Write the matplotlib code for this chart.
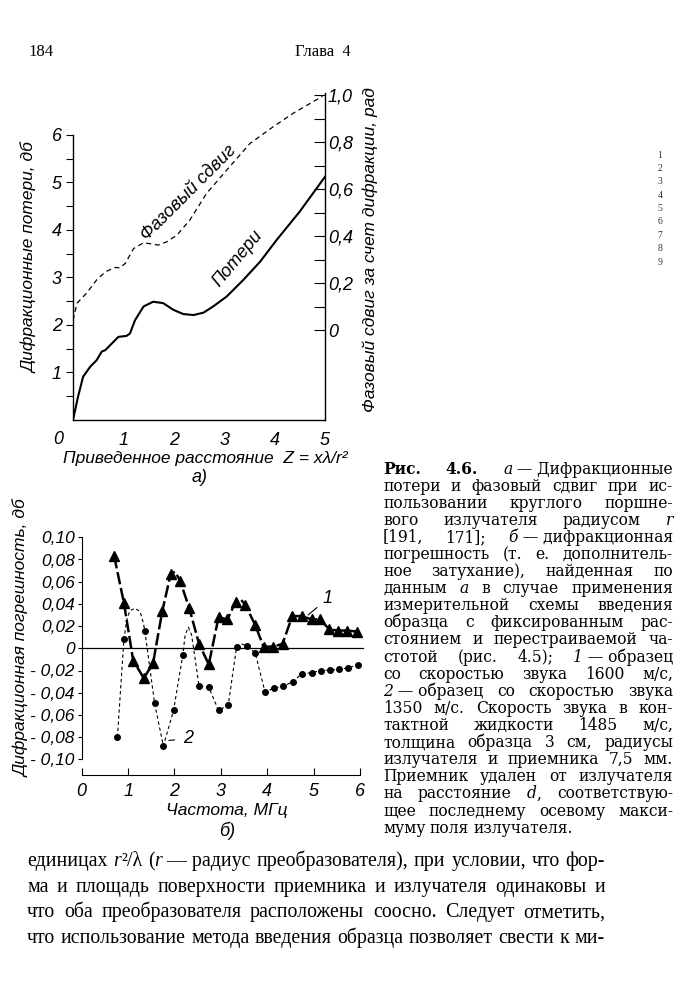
import re
import matplotlib
matplotlib.use('Agg')
import matplotlib.pyplot as plt

# --- данные, рис. а ---
z_loss = [0, 0.10, 0.20, 0.34, 0.47, 0.57, 0.64, 0.77, 0.90, 1.06, 1.13, 1.23, 1.40,
          1.59, 1.79, 1.99, 2.19, 2.39, 2.59, 2.78, 3.05, 3.38, 3.71, 4.04, 4.50, 5.00]
loss_db = [0, 0.49, 0.91, 1.12, 1.26, 1.44, 1.47, 1.61, 1.75, 1.77, 1.82, 2.10, 2.39,
           2.49, 2.46, 2.32, 2.23, 2.21, 2.26, 2.39, 2.60, 2.95, 3.33, 3.79, 4.39, 5.12]

z_phase = [0, 0.08, 0.27, 0.47, 0.64, 0.83, 0.93, 1.04, 1.20, 1.40, 1.59, 1.69, 1.86,
           2.06, 2.32, 2.65, 3.05, 3.51, 3.97, 4.37, 4.83, 4.95]
phase_rad = [0.042, 0.115, 0.158, 0.214, 0.248, 0.267, 0.265, 0.285, 0.347, 0.372, 0.366,
             0.362, 0.376, 0.404, 0.469, 0.582, 0.681, 0.794, 0.865, 0.923, 0.980, 0.995]

# --- данные, рис. б ---
f1 = [0.70, 0.91, 1.11, 1.34, 1.54, 1.74, 1.92, 2.12, 2.32, 2.53, 2.74, 2.95, 3.14, 3.32,
      3.53, 3.74, 3.92, 4.13, 4.33, 4.54, 4.74, 4.96, 5.14, 5.34, 5.53, 5.73, 5.94]
v1 = [0.083, 0.041, -0.011, -0.027, -0.013, 0.034, 0.067, 0.061, 0.036, 0.004, -0.0145,
      0.028, 0.026, 0.042, 0.039, 0.021, 0.0015, 0.0015, 0.004, 0.029, 0.029, 0.026, 0.026,
      0.017, 0.016, 0.016, 0.015]
# точки кривой 1 (с вершинами между маркерами)
f1_line = [0.70, 0.91, 1.11, 1.34, 1.54, 1.74, 1.92, 2.01, 2.12, 2.32, 2.53, 2.74, 2.95,
           3.14, 3.32, 3.43, 3.53, 3.74, 3.92, 4.13, 4.33, 4.54, 4.74, 4.96, 5.14, 5.34,
           5.53, 5.73, 5.94]
v1_line = [0.083, 0.041, -0.011, -0.027, -0.013, 0.034, 0.067, 0.069, 0.061, 0.036, 0.004,
           -0.0145, 0.028, 0.026, 0.042, 0.044, 0.039, 0.021, 0.0015, 0.0015, 0.004, 0.029,
           0.029, 0.026, 0.026, 0.017, 0.016, 0.016, 0.015]

f2 = [0.77, 0.91, 1.36, 1.57, 1.76, 1.98, 2.18, 2.53, 2.74, 2.95, 3.16, 3.34, 3.56, 3.74,
      3.95, 4.15, 4.35, 4.56, 4.74, 4.96, 5.15, 5.35, 5.55, 5.75, 5.96]
v2 = [-0.080, 0.008, 0.016, -0.049, -0.088, -0.056, -0.006, -0.034, -0.035, -0.056, -0.051,
      0.0015, 0.002, -0.004, -0.039, -0.036, -0.034, -0.030, -0.023, -0.022, -0.020, -0.0197,
      -0.019, -0.0176, -0.015]
f2_line = [0.77, 0.91, 0.97, 1.04, 1.15, 1.26, 1.33, 1.36, 1.57, 1.76, 1.98, 2.18, 2.23,
           2.30, 2.37, 2.53, 2.74, 2.95, 3.16, 3.34, 3.45, 3.56, 3.74, 3.95, 4.15, 4.35,
           4.56, 4.74, 4.96, 5.15, 5.35, 5.55, 5.75, 5.96]
v2_line = [-0.080, 0.008, 0.0255, 0.034, 0.036, 0.033, 0.0225, 0.016, -0.049, -0.088,
           -0.056, -0.006, 0.012, 0.019, 0.012, -0.034, -0.035, -0.056, -0.051, 0.0015,
           0.004, 0.002, -0.004, -0.039, -0.036, -0.034, -0.030, -0.023, -0.022, -0.020,
           -0.0197, -0.019, -0.0176, -0.015]

yt2 = [-0.10, -0.08, -0.06, -0.04, -0.02, 0, 0.02, 0.04, 0.06, 0.08, 0.10]
yt2_lab = ['- 0,10', '- 0,08', '- 0,06', '- 0,04', '- 0,02', '0',
           '0,02', '0,04', '0,06', '0,08', '0,10']
rt = [0, 0.2, 0.4, 0.6, 0.8, 1.0]
rt_lab = ['0', '0,2', '0,4', '0,6', '0,8', '1,0']

caption = [
    '**Рис.** **4.6.** *а*\u00a0—\u00a0Дифракционные',
    'потери и фазовый сдвиг при ис-',
    'пользовании круглого поршне-',
    'вого излучателя радиусом *r*',
    '[191, 171]; *б*\u00a0—\u00a0дифракционная',
    'погрешность (т. е. дополнитель-',
    'ное затухание), найденная по',
    'данным *а* в случае применения',
    'измерительной схемы введения',
    'образца с фиксированным рас-',
    'стоянием и перестраиваемой ча-',
    'стотой (рис. 4.5); *1*\u00a0—\u00a0образец',
    'со скоростью звука 1600 м/с,',
    '*2*\u00a0—\u00a0образец со скоростью звука',
    '1350 м/с. Скорость звука в кон-',
    'тактной жидкости 1485 м/с,',
    'толщина образца 3 см, радиусы',
    'излучателя и приемника 7,5 мм.',
    'Приемник удален от излучателя',
    'на расстояние *d*, соответствую-',
    'щее последнему осевому макси-',
    'муму поля излучателя.',
]
body = [
    'единицах *r*²/λ (*r*\u00a0—\u00a0радиус преобразователя), при условии, что фор-',
    'ма и площадь поверхности приемника и излучателя одинаковы и',
    'что оба преобразователя расположены соосно. Следует отметить,',
    'что использование метода введения образца позволяет свести к ми-',
]

W, H = 681, 1000
fig = plt.figure(figsize=(6.81, 10), dpi=100)
fig.patch.set_facecolor('white')


def fx(px):
    return px / W


def fy(py):
    return 1 - py / H


hand = dict(fontfamily=['Liberation Sans', 'DejaVu Sans'], fontstyle='italic')
SERIF = 'Liberation Serif'
CAP_SERIF = 'DejaVu Serif'

# ================= рис. а =================
ax1 = fig.add_axes([fx(73), fy(420), (325 - 73) / W, (420 - 92) / H])
ax1.set_xlim(0, 5)
ax1.set_ylim(0, 328 / 47.5)
ax1.plot(z_loss, loss_db, color='black', lw=1.5)
ax1.spines['top'].set_visible(False)
ax1.spines['right'].set_visible(False)
ax1.spines['left'].set_bounds(0, 6)
ax1.spines['bottom'].set_bounds(0, 5)
for s in ['left', 'bottom']:
    ax1.spines[s].set_linewidth(1.0)
ax1.set_yticks(range(1, 7), labels=[str(i) for i in range(1, 7)], fontsize=13, **hand)
ax1.set_yticks([i + 0.5 for i in range(6)], minor=True)
ax1.tick_params(axis='y', which='both', direction='out', length=5, width=0.8, pad=3)
ax1.set_xticks([1, 2, 3, 4, 5], labels=['1', '2', '3', '4', '5'], fontsize=13, **hand)
ax1.tick_params(axis='x', length=0, pad=9)
ax1.text(-0.06, -0.035, '0', transform=ax1.transAxes, ha='center', va='top', fontsize=13, **hand)

r_lo = (0 - 1.89) / 4.95
r_hi = (328 / 47.5 - 1.89) / 4.95
ax1r = ax1.twinx()
ax1r.set_ylim(r_lo, r_hi)
ax1r.plot(z_phase, phase_rad, color='black', lw=0.9, dashes=(4, 3))
for s in ['left', 'top', 'bottom']:
    ax1r.spines[s].set_visible(False)
ax1r.spines['right'].set_bounds(r_lo, 1.01)
ax1r.spines['right'].set_linewidth(1.0)
ax1r.set_yticks(rt, labels=rt_lab, fontsize=13, **hand)
ax1r.set_yticks([0.1, 0.3, 0.5, 0.7, 0.9], minor=True)
ax1r.tick_params(axis='y', which='both', direction='in', length=8, width=0.8, pad=2)

ax1.text(2.30, 4.78, 'Фазовый сдвиг', rotation=45, ha='center', va='center',
         rotation_mode='anchor', fontsize=13, **hand)
ax1.text(3.27, 3.39, 'Потери', rotation=50, ha='center', va='center',
         rotation_mode='anchor', fontsize=13, **hand)

fig.text(fx(30), fy(258), 'Дифракционные потери, дб', rotation=90, ha='center',
         va='center', fontsize=12.5, **hand)
fig.text(fx(370), fy(250), 'Фазовый сдвиг за счет дифракции, рад', rotation=90,
         ha='center', va='center', fontsize=12.5, **hand)
fig.text(fx(205), fy(458), 'Приведенное расстояние  Z = xλ/r²', ha='center',
         va='center', fontsize=12.5, **hand)
fig.text(fx(200), fy(478), 'а)', ha='center', va='center', fontsize=13, **hand)

# ================= рис. б =================
zero_py = 648.3
k = 1110.0
ax2 = fig.add_axes([fx(81.7), fy(775), (360 - 81.7) / W, (775 - 530) / H])
ax2.set_xlim(0, 6)
ax2.set_ylim(-(775 - zero_py) / k, (zero_py - 530) / k)
ax2.axhline(0, xmin=0, xmax=1.01, color='black', lw=0.9, clip_on=False)
ax2.plot(f1_line, v1_line, color='black', lw=1.8, dashes=(5, 1.5), clip_on=False)
ax2.plot(f1, v1, ls='none', marker='^', ms=7, color='black', clip_on=False)
ax2.plot(f2_line, v2_line, color='black', lw=0.8, dashes=(3, 2.5), clip_on=False)
ax2.plot(f2, v2, ls='none', marker='o', ms=4, color='black', clip_on=False)
ax2.spines['top'].set_visible(False)
ax2.spines['right'].set_visible(False)
ax2.spines['left'].set_bounds(-0.10, 0.10)
ax2.spines['bottom'].set_bounds(0, 6)
ax2.set_yticks(yt2, labels=yt2_lab, fontsize=12.5, **hand)
ax2.tick_params(axis='y', direction='out', length=3, width=0.8, pad=2)
ax2.set_xticks(range(7), labels=[str(i) for i in range(7)], fontsize=13, **hand)
ax2.tick_params(axis='x', direction='in', length=5, width=0.8, pad=6)

ax2.annotate('1', xy=(4.88, 0.030), xytext=(5.31, 0.045), ha='center', va='center',
             fontsize=13, arrowprops=dict(arrowstyle='-', lw=0.8, color='black',
                                          shrinkA=3, shrinkB=0), **hand)
ax2.annotate('2', xy=(1.88, -0.083), xytext=(2.29, -0.0815), ha='center', va='center',
             fontsize=13, arrowprops=dict(arrowstyle='-', lw=0.8, color='black',
                                          shrinkA=4, shrinkB=0), **hand)

fig.text(fx(22), fy(638), 'Дифракционная погрешность, дб', rotation=90, ha='center',
         va='center', fontsize=12.5, **hand)
fig.text(fx(227), fy(810), 'Частота, МГц', ha='center', va='center', fontsize=12.5, **hand)
fig.text(fx(227), fy(831), 'б)', ha='center', va='center', fontsize=13, **hand)

# ================= текст страницы =================
renderer = fig.canvas.get_renderer()


def segs(word):
    out = []
    for part in re.split(r'(\*\*[^*]+\*\*|\*[^*]+\*)', word):
        if not part:
            continue
        if part.startswith('**'):
            out.append((part[2:-2], 'bold', 'normal'))
        elif part.startswith('*'):
            out.append((part[1:-1], 'normal', 'italic'))
        else:
            out.append((part, 'normal', 'normal'))
    return out


def make_words(line, base, size, family):
    items = []
    for w in line.split(' '):
        parts = []
        for t, wt, st in segs(w):
            tx = fig.text(0, fy(base), t, fontsize=size, fontfamily=family,
                          fontweight=wt, fontstyle=st, ha='left', va='baseline')
            parts.append((tx, tx.get_window_extent(renderer).width))
        items.append(parts)
    return items


def fit_size(lines, width, family, size0=10, space_em=0.28, max_size=99):
    # подбираем кегль так, чтобы самая плотная строка вошла с обычными пробелами
    worst = 0
    for line in lines:
        items = make_words(line, 0, size0, family)
        need = sum(w for parts in items for _, w in parts)
        need += (len(items) - 1) * space_em * size0 * 100 / 72
        worst = max(worst, need)
        for parts in items:
            for tx, _ in parts:
                tx.remove()
    return min(size0 * width / worst, max_size)


def justify_line(line, x0, x1, base, size, family, last=False):
    items = make_words(line, base, size, family)
    widths = [sum(p[1] for p in parts) for parts in items]
    if last or len(items) < 2:
        gap = size * 100 / 72 * 0.28
    else:
        gap = (x1 - x0 - sum(widths)) / (len(items) - 1)
    x = x0
    for parts in items:
        for tx, w in parts:
            tx.set_x(fx(x))
            x += w
        x += gap


cap_size = fit_size(caption[:-1], 673 - 383, CAP_SERIF, max_size=11.2)
for i, line in enumerate(caption):
    justify_line(line, 383, 673, 473.5 + i * 17.1, cap_size, CAP_SERIF,
                 last=(i == len(caption) - 1))

body_size = fit_size(body, 605 - 27, SERIF)
for i, line in enumerate(body):
    justify_line(line, 27, 605, 866 + i * 25.7, body_size, SERIF)

fig.text(fx(28), fy(56), '184', fontfamily=SERIF, fontsize=12, va='baseline')
fig.text(fx(295), fy(56), 'Глава  4', fontfamily=SERIF, fontsize=12, va='baseline')

# цифры на поле
for i in range(9):
    fig.text(fx(660), fy(155 + i * 13.4), str(i + 1), fontfamily=SERIF,
             fontsize=7, color='#333333', ha='center', va='center')

fig.savefig('out.png', dpi=100, facecolor='white')
